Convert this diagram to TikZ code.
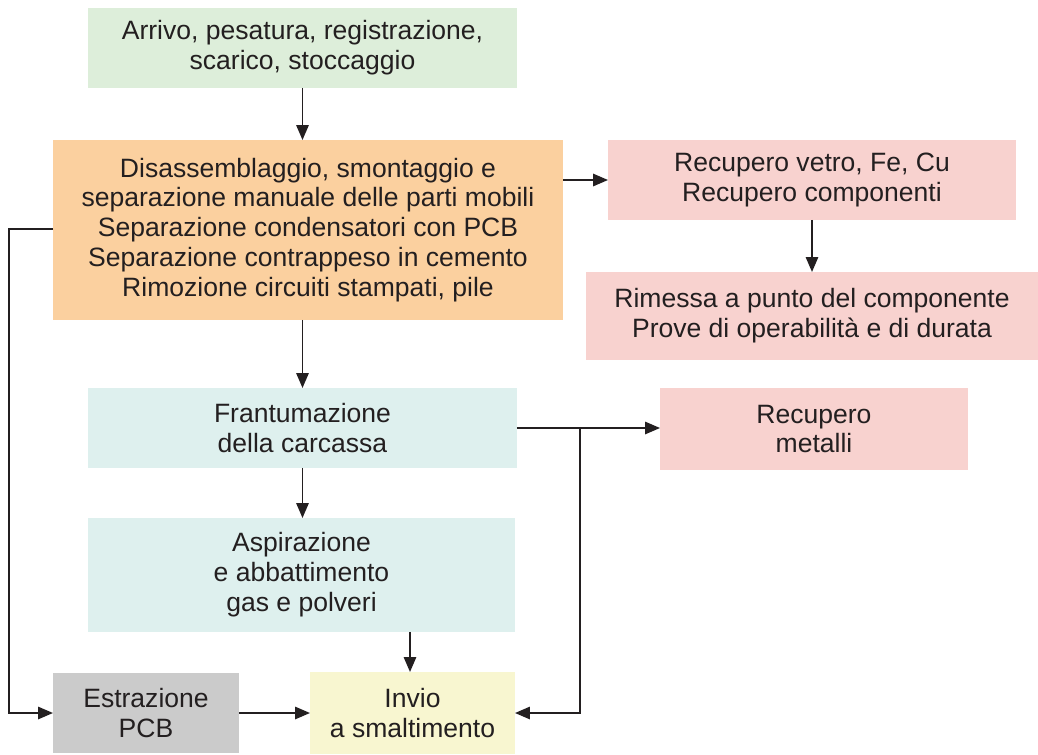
\documentclass[tikz,border=0pt]{standalone}
\usepackage{fontspec}
\setmainfont{Liberation Sans}
\usetikzlibrary{arrows.meta,calc}
\definecolor{txtgray}{HTML}{231F20}
\definecolor{boxgreen}{HTML}{DDEEDA}
\definecolor{boxorange}{HTML}{FBD09F}
\definecolor{boxpink}{HTML}{F8D2CF}
\definecolor{boxteal}{HTML}{DEF0EE}
\definecolor{boxyellow}{HTML}{F8F6D0}
\definecolor{boxgray}{HTML}{CBCBCB}
\begin{document}
\begin{tikzpicture}[x=0.02cm,y=-0.02cm,>={Triangle[length=8.5pt,width=7pt]},
                    line width=1.1pt,draw=txtgray,
                    every node/.style={shape=rectangle,draw=none,inner sep=0pt,outer sep=0pt,
                      align=center,text=txtgray,font=\fontsize{15.1}{17}\selectfont}]
  \useasboundingbox (0,0) rectangle (1038,754);

  \node[fill=boxgreen,minimum width=8.58cm,minimum height=1.6cm] (arrivo) at (302.5,48)
    {Arrivo, pesatura, registrazione,\\scarico, stoccaggio};
  \node[fill=boxorange,minimum width=10.2cm,minimum height=3.6cm] (disass) at (308,230)
    {Disassemblaggio, smontaggio e\\separazione manuale delle parti mobili\\Separazione condensatori con PCB\\Separazione contrappeso in cemento\\Rimozione circuiti stampati, pile};
  \node[fill=boxpink,minimum width=8.16cm,minimum height=1.6cm] (recvetro) at (812,180)
    {Recupero vetro, Fe, Cu\\Recupero componenti};
  \node[fill=boxpink,minimum width=9.04cm,minimum height=1.76cm] (rimessa) at (812,316)
    {Rimessa a punto del componente\\Prove di operabilità e di durata};
  \node[fill=boxteal,minimum width=8.58cm,minimum height=1.6cm] (frant) at (302.5,428)
    {Frantumazione\\della carcassa};
  \node[fill=boxpink,minimum width=6.16cm,minimum height=1.64cm] (recmet) at (814,429)
    {Recupero\\metalli};
  \node[fill=boxteal,minimum width=8.54cm,minimum height=2.28cm] (aspir) at (301.5,575)
    {Aspirazione\\e abbattimento\\gas e polveri};
  \node[fill=boxgray,minimum width=3.72cm,minimum height=1.6cm] (estraz) at (146,713)
    {Estrazione\\PCB};
  \node[fill=boxyellow,minimum width=4.1cm,minimum height=1.64cm] (invio) at (412.5,713)
    {Invio\\a smaltimento};

  \coordinate (branch) at (580,428);
  \coordinate (leftline) at (9,229);

  \path[->] (arrivo.south) edge (arrivo.south |- disass.north)
            (disass.east |- recvetro) edge (recvetro.west)
            (recvetro.south) edge (rimessa.north)
            (disass.south -| arrivo.south) edge (arrivo.south |- frant.north)
            (frant.east) edge (frant.east -| recmet.west)
            (frant.south) edge (aspir.north -| frant.south)
            (aspir.south -| 410,0) edge (invio.north -| 410,0)
            (estraz.east) edge (invio.west);
  \draw[->] (branch) |- (invio.east);
  \draw[->] (disass.west |- leftline) -- (leftline) |- (estraz.west);
\end{tikzpicture}
\end{document}
